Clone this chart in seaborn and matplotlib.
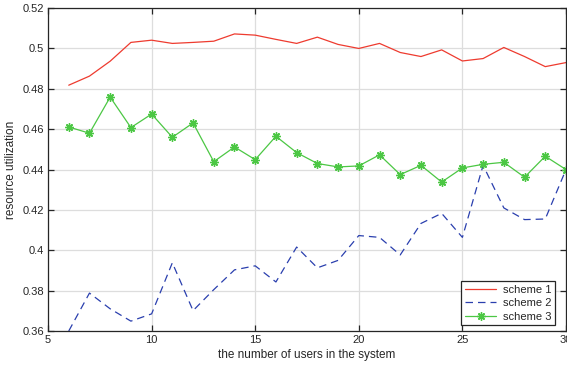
import numpy as np
import pandas as pd
import matplotlib
matplotlib.use("Agg")
import matplotlib.pyplot as plt
import seaborn as sns

users = list(range(6, 31))
scheme1 = [0.4818, 0.4863, 0.4937, 0.5030, 0.5041, 0.5025, 0.5030, 0.5036, 0.5072, 0.5066,
           0.5045, 0.5025, 0.5056, 0.5020, 0.5000, 0.5025, 0.4980, 0.4960, 0.4993, 0.4938,
           0.4950, 0.5005, 0.4960, 0.4910, 0.4930]
scheme2 = [0.3600, 0.3788, 0.3710, 0.3649, 0.3685, 0.3938, 0.3701, 0.3805, 0.3903, 0.3923,
           0.3843, 0.4016, 0.3913, 0.3950, 0.4073, 0.4064, 0.3977, 0.4133, 0.4183, 0.4064,
           0.4421, 0.4210, 0.4152, 0.4155, 0.4400]
scheme3 = [0.4611, 0.4580, 0.4759, 0.4608, 0.4675, 0.4560, 0.4631, 0.4439, 0.4512, 0.4449,
           0.4565, 0.4484, 0.4430, 0.4413, 0.4418, 0.4473, 0.4375, 0.4421, 0.4338, 0.4408,
           0.4426, 0.4436, 0.4362, 0.4466, 0.4400]
series_names = ["scheme 1", "scheme 2", "scheme 3"]
x_ticks = [5, 10, 15, 20, 25, 30]
y_ticks = [0.36, 0.38, 0.40, 0.42, 0.44, 0.46, 0.48, 0.50, 0.52]
y_tick_labels = ["0.36", "0.38", "0.4", "0.42", "0.44", "0.46", "0.48", "0.5", "0.52"]

df = pd.DataFrame({
    "users": users * 3,
    "value": scheme1 + scheme2 + scheme3,
    "scheme": [series_names[0]] * len(users) + [series_names[1]] * len(users) + [series_names[2]] * len(users),
})

sns.set_theme(style="whitegrid")
plt.rcParams["font.family"] = ["Liberation Sans", "DejaVu Sans"]

fig = plt.figure(figsize=(5.67, 3.68), dpi=100)
ax = fig.add_axes([0.0847, 0.1005, 0.9135, 0.8775])

palette = {"scheme 1": "#ee3b2f", "scheme 2": "#2a3fae", "scheme 3": "#4cc744"}
sns.lineplot(data=df, x="users", y="value", hue="scheme", style="scheme",
             palette=palette,
             dashes={"scheme 1": "", "scheme 2": (6, 4), "scheme 3": ""},
             markers={"scheme 1": "", "scheme 2": "", "scheme 3": (8, 2, 0)},
             markersize=6, markeredgewidth=1.0, linewidth=0.9, ax=ax)

for line in ax.get_lines():
    line.set_markeredgecolor(line.get_color())
    line.set_markerfacecolor(line.get_color())

ax.set_xlim(5, 30)
ax.set_ylim(0.36, 0.52)
ax.set_xticks(x_ticks)
ax.set_xticklabels([str(t) for t in x_ticks])
ax.set_yticks(y_ticks)
ax.set_yticklabels(y_tick_labels)
ax.grid(True, color="#dddddd", linewidth=0.9)
ax.set_facecolor("white")
for s in ax.spines.values():
    s.set_color("#262626")
    s.set_linewidth(0.9)
    s.set_visible(True)
ax.tick_params(axis="both", which="both", direction="in", length=4, width=0.9,
               colors="#262626", labelsize=8, top=True, right=True,
               bottom=True, left=True, pad=3)
ax.tick_params(axis="both", labelcolor="#262626")
ax.set_xlabel("the number of users in the system", fontsize=8.5, color="#262626", labelpad=3)
ax.set_ylabel("resource utilization", fontsize=8.5, color="#262626", labelpad=4)

handles, labels = ax.get_legend_handles_labels()
leg = ax.legend(handles, labels, loc="lower right", fontsize=8, frameon=True,
                fancybox=False, edgecolor="#262626", framealpha=1,
                borderpad=0.35, handlelength=2.8, handletextpad=0.6, labelspacing=0.3,
                bbox_to_anchor=(0.99, 0.0))
leg.get_frame().set_linewidth(0.9)

fig.savefig("out.png", dpi=100)
